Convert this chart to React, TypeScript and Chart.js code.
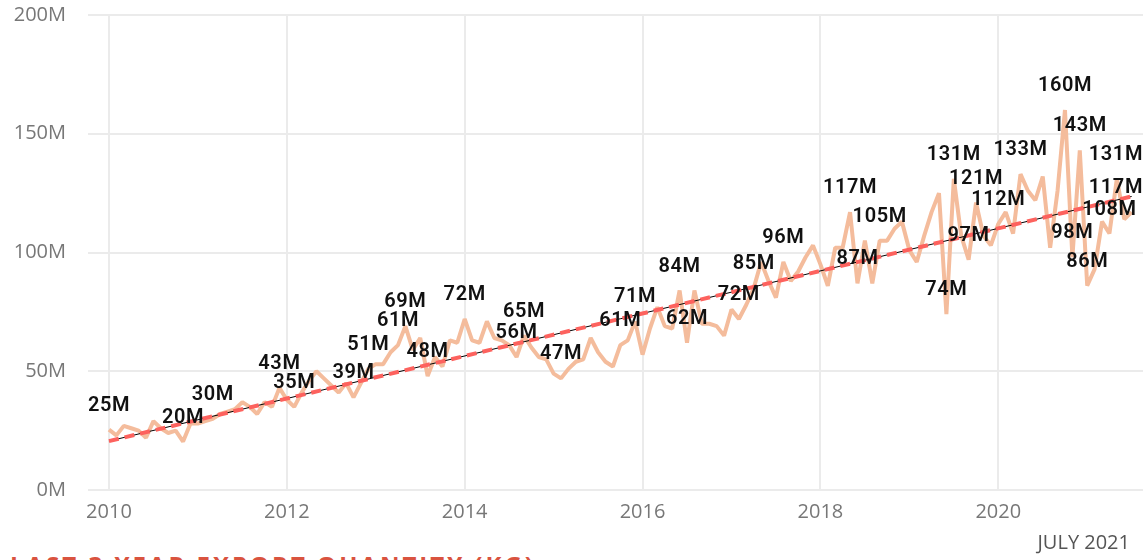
import React, { useEffect, useRef } from 'react';
import { Chart, registerables } from 'chart.js';

Chart.register(...registerables);

// Monthly export quantity (millions), Jan 2010 .. Jul 2021
const monthValues: number[] = [
  25.4, 23, 27, 26, 25, 22, 29, 26, 24, 25, 20.4, 28,
  28, 29, 30, 32, 33, 34, 37, 35, 32, 37, 35, 43,
  38, 35, 41, 46, 50, 47, 44, 41, 45, 39, 45, 51,
  53, 53, 58, 61, 69, 59, 64, 48, 56, 52, 63, 62,
  72, 63, 62, 71, 64, 63, 61, 56, 65, 60, 56, 55,
  49, 47, 51, 54, 55, 64, 58, 54, 52, 61, 63, 71,
  57, 68, 77, 69, 68, 84, 62, 84, 70, 70, 69, 65,
  76, 72, 78, 85, 96, 88, 81, 96, 88, 92, 98, 103,
  95, 86, 102, 102, 117, 87, 105, 87, 105, 105, 110, 113,
  101, 96, 107, 117, 125, 74, 131, 107, 97, 121, 107, 103,
  112, 117, 108, 133, 126, 122, 132, 102, 126, 160, 98, 143,
  86, 93, 113, 108, 131, 114, 117,
];

// indices of points that carry a data label
const labelIndices: number[] = [
  0, 10, 14, 23, 25, 33, 35, 39, 40, 43, 48, 55, 56, 61, 69, 71, 77, 78,
  85, 87, 91, 100, 101, 104, 113, 114, 116, 117, 120, 123, 129, 130, 131,
  132, 135, 136, 138,
];

// trend line end points (month index, value)
const trendMonths: number[] = [0, 138];
const trendValues: number[] = [20.6, 123.6];

const startYear = 2010;
const xTickMonths: number[] = [0, 24, 48, 72, 96, 120];
const yTickValues: number[] = [0, 50, 100, 150, 200];
const periodLabel = 'JULY 2021';
const footerTitle = 'LAST 3 YEAR EXPORT QUANTITY (KG)';

const labelPlugin = {
  id: 'pointLabels',
  afterDatasetsDraw(chart: any) {
    const meta = chart.getDatasetMeta(0);
    const ctx = chart.ctx;
    const { left, right } = chart.chartArea;
    ctx.save();
    ctx.font = '600 20px Roboto';
    try { (ctx as any).letterSpacing = '0.6px'; } catch (e) {}
    ctx.fillStyle = '#111111';
    ctx.textAlign = 'center';
    ctx.textBaseline = 'middle';
    labelIndices.forEach((i) => {
      const el = meta.data[i];
      if (!el) return;
      const text = Math.round(monthValues[i]) + 'M';
      const w = ctx.measureText(text).width;
      let x = el.x;
      x = Math.min(Math.max(x, left + w / 2), right - w / 2);
      ctx.fillText(text, x, el.y - 24);
    });
    ctx.restore();
  },
};

export default function App() {
  const canvasRef = useRef<HTMLCanvasElement | null>(null);

  useEffect(() => {
    document.body.style.margin = '0';
    document.body.style.overflow = 'hidden';
    const canvas = canvasRef.current;
    if (!canvas) return;

    const pxPerMonth = (1000 - 109) / 120;
    const xMin = -(109 - 88) / pxPerMonth;
    const xMax = xMin + (1145 - 88) / pxPerMonth;

    const chart = new Chart(canvas, {
      type: 'line',
      data: {
        datasets: [
          {
            label: 'Quantity',
            data: monthValues.map((v, i) => ({ x: i, y: v })),
            borderColor: '#F4BC9C',
            borderWidth: 4,
            borderJoinStyle: 'bevel',
            pointRadius: 0,
            tension: 0,
            order: 2,
          },
          {
            label: 'Trend',
            data: trendMonths.map((m, i) => ({ x: m, y: trendValues[i] })),
            borderColor: '#000000',
            borderWidth: 1,
            pointRadius: 0,
            order: 1,
          },
          {
            label: 'Trend dashed',
            data: trendMonths.map((m, i) => ({ x: m, y: trendValues[i] })),
            borderColor: '#FD625E',
            borderWidth: 4,
            borderDash: [10, 6],
            pointRadius: 0,
            order: 0,
          },
        ],
      },
      options: {
        animation: false,
        responsive: false,
        devicePixelRatio: 1,
        layout: { padding: { top: 15, right: 0, bottom: 0, left: 0 } },
        plugins: {
          legend: { display: false },
          tooltip: { enabled: false },
        },
        scales: {
          x: {
            type: 'linear',
            min: xMin,
            max: xMax,
            afterBuildTicks: (scale: any) => {
              scale.ticks = xTickMonths.map((v) => ({ value: v }));
            },
            afterFit: (scale: any) => {
              scale.height = 40;
              scale.paddingLeft = 0;
              scale.paddingRight = 0;
            },
            grid: { color: '#EBEBEB', lineWidth: 2, drawTicks: false },
            border: { display: false },
            ticks: {
              padding: 10,
              color: '#777777',
              font: { family: 'Open Sans', size: 20 },
              maxRotation: 0,
              autoSkip: false,
              callback: (v: any) => String(startYear + Math.round(Number(v) / 12)),
            },
          },
          y: {
            min: 0,
            max: 200,
            afterBuildTicks: (scale: any) => {
              scale.ticks = yTickValues.map((v) => ({ value: v }));
            },
            afterFit: (scale: any) => {
              scale.width = 88;
              scale.paddingTop = 0;
              scale.paddingBottom = 0;
            },
            grid: { color: '#EBEBEB', lineWidth: 2, drawTicks: false },
            border: { display: false },
            ticks: {
              padding: 22,
              color: '#777777',
              font: { family: 'Open Sans', size: 20 },
              callback: (v: any) => v + 'M',
            },
          },
        },
      },
      plugins: [labelPlugin],
    } as any);

    if ((document as any).fonts && (document as any).fonts.ready) {
      (document as any).fonts.ready.then(() => chart.update());
    }

    return () => chart.destroy();
  }, []);

  return (
    <div style={{ position: 'relative', width: 1145, height: 560, overflow: 'hidden', background: '#ffffff' }}>
      <canvas ref={canvasRef} width={1145} height={530} style={{ position: 'absolute', left: 0, top: 0, width: 1145, height: 530 }} />
      <div
        style={{
          position: 'absolute',
          right: 15,
          top: 532,
          fontFamily: 'Open Sans',
          fontSize: 20,
          lineHeight: '20px',
          color: '#555555',
          whiteSpace: 'nowrap',
        }}
      >
        {periodLabel}
      </div>
      <div
        style={{
          position: 'absolute',
          left: 10,
          top: 553,
          fontFamily: 'Open Sans',
          fontWeight: 700,
          fontSize: 24,
          lineHeight: '24px',
          letterSpacing: 3,
          color: '#D9533F',
          whiteSpace: 'nowrap',
        }}
      >
        {footerTitle}
      </div>
    </div>
  );
}
